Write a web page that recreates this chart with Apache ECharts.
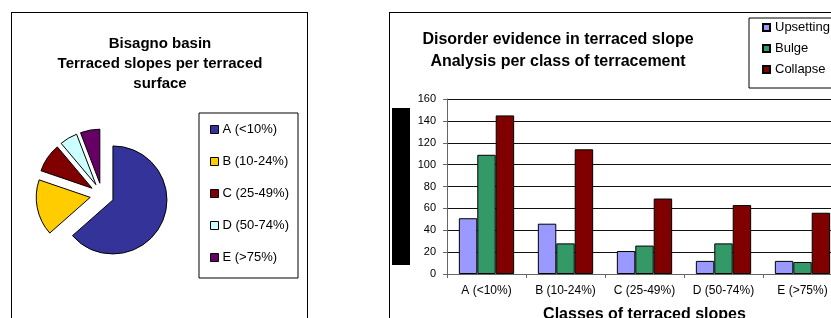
<!DOCTYPE html>
<html>
<head>
<meta charset="utf-8">
<script src="https://cdn.jsdelivr.net/npm/echarts@6/dist/echarts.min.js"></script>
<style>
  html, body { margin: 0; padding: 0; background: #fff; overflow: hidden; width: 831px; height: 318px; }
  .box { position: absolute; border: 1px solid #000; box-sizing: border-box; }
  #pie_box { left: 11px; top: 12px; width: 297px; height: 330px; }
  #bar_box { left: 389px; top: 12px; width: 470px; height: 330px; }
  .chart { width: 100%; height: 100%; }
</style>
</head>
<body>
<div class="box" id="pie_box"><div class="chart" id="pie_chart"></div></div>
<div class="box" id="bar_box"><div class="chart" id="bar_chart"></div></div>
<script>
// pie : share of terraced slopes per class
var pieNames = ['A (<10%)', 'B (10-24%)', 'C (25-49%)', 'D (50-74%)', 'E (>75%)'];
var pieValues = [63.3, 16.7, 8.6, 5.3, 5.8];
var pieColors = ['#333399', '#ffcc00', '#800000', '#ccffff', '#660066'];

// bars : disorder evidence per class
var classes = ['A (<10%)', 'B (10-24%)', 'C (25-49%)', 'D (50-74%)', 'E (>75%)'];
var upsetting = [51, 46, 21, 12, 12];
var bulge = [109, 28, 26, 28, 11];
var collapse = [145, 114, 69, 63, 56];
var yTicks = [0, 20, 40, 60, 80, 100, 120, 140, 160];

var font = 'Liberation Sans, Arial, sans-serif';

var pieData = [];
for (var i = 0; i < pieNames.length; ++i) {
    pieData.push({
        name: pieNames[i],
        value: pieValues[i],
        selected: true,
        itemStyle: { color: pieColors[i] }
    });
}

var pieOption = {
    animation: false,
    title: {
        text: 'Bisagno basin\nTerraced slopes per terraced\nsurface',
        left: 148,
        top: 21,
        padding: 0,
        textAlign: 'center',
        textStyle: { fontFamily: font, fontSize: 15, fontWeight: 'bold', color: '#000', lineHeight: 20 }
    },
    legend: {
        orient: 'vertical',
        left: 198,
        top: 110,
        padding: 0,
        itemGap: 19,
        itemWidth: 8,
        itemHeight: 8,
        itemStyle: { borderColor: '#000', borderWidth: 1 },
        icon: 'rect',
        selectedMode: false,
        data: pieNames,
        textStyle: { fontFamily: font, fontSize: 13, color: '#000', padding: [0, 0, 0, -1] }
    },
    graphic: [{
        type: 'rect',
        shape: { x: 187, y: 100, width: 99, height: 165 },
        style: { fill: 'none', stroke: '#000', lineWidth: 1 }
    }],
    series: [{
        type: 'pie',
        center: [90, 182],
        radius: 54,
        startAngle: 90,
        clockwise: true,
        selectedMode: 'multiple',
        selectedOffset: 12,
        label: { show: false },
        labelLine: { show: false },
        emphasis: { disabled: true },
        itemStyle: { borderColor: '#000', borderWidth: 1 },
        data: pieData
    }]
};

var barOption = {
    animation: false,
    title: {
        text: 'Disorder evidence in terraced slope\nAnalysis per class of terracement',
        left: 168,
        top: 16,
        padding: 0,
        textAlign: 'center',
        textStyle: { fontFamily: font, fontSize: 16, fontWeight: 'bold', color: '#000', lineHeight: 22 }
    },
    legend: {
        orient: 'vertical',
        left: 372,
        top: 8,
        padding: 0,
        itemGap: 8,
        itemWidth: 7,
        itemHeight: 7,
        icon: 'rect',
        selectedMode: false,
        textStyle: { fontFamily: font, fontSize: 13, color: '#000' }
    },
    graphic: [{
        type: 'rect',
        shape: { x: 359, y: 5, width: 120, height: 70 },
        style: { fill: 'none', stroke: '#000', lineWidth: 1 }
    }, {
        type: 'rect',
        shape: { x: 2, y: 95, width: 18, height: 157 },
        style: { fill: '#000' }
    }],
    grid: { left: 57, top: 86, width: 395, height: 175 },
    xAxis: {
        type: 'category',
        data: classes,
        name: 'Classes of terraced slopes',
        nameLocation: 'middle',
        nameGap: 33,
        nameTextStyle: { fontFamily: font, fontSize: 16, fontWeight: 'bold', color: '#000' },
        axisLine: { lineStyle: { color: '#666' } },
        axisTick: { show: true, length: 4, lineStyle: { color: '#666' } },
        axisLabel: { interval: 0, fontFamily: font, fontSize: 12, color: '#000', margin: 11 }
    },
    yAxis: {
        type: 'value',
        min: yTicks[0],
        max: yTicks[yTicks.length - 1],
        interval: yTicks[1] - yTicks[0],
        axisLine: { show: true, lineStyle: { color: '#666' } },
        axisTick: { show: true, length: 4, lineStyle: { color: '#666' } },
        axisLabel: { fontFamily: font, fontSize: 11, color: '#000', margin: 11 },
        splitLine: { lineStyle: { color: '#111', width: 1 } }
    },
    series: [
        { name: 'Upsetting', type: 'bar', data: upsetting, barGap: '0%', barCategoryGap: '30%',
          itemStyle: { color: '#9999ff', borderColor: '#000', borderWidth: 1 } },
        { name: 'Bulge', type: 'bar', data: bulge, barGap: '0%', barCategoryGap: '30%',
          itemStyle: { color: '#339966', borderColor: '#000', borderWidth: 1 } },
        { name: 'Collapse', type: 'bar', data: collapse, barGap: '0%', barCategoryGap: '30%',
          itemStyle: { color: '#800000', borderColor: '#000', borderWidth: 1 } }
    ]
};

var pieChart = echarts.init(document.getElementById('pie_chart'));
pieChart.setOption(pieOption);
var barChart = echarts.init(document.getElementById('bar_chart'));
barChart.setOption(barOption);
</script>
</body>
</html>
